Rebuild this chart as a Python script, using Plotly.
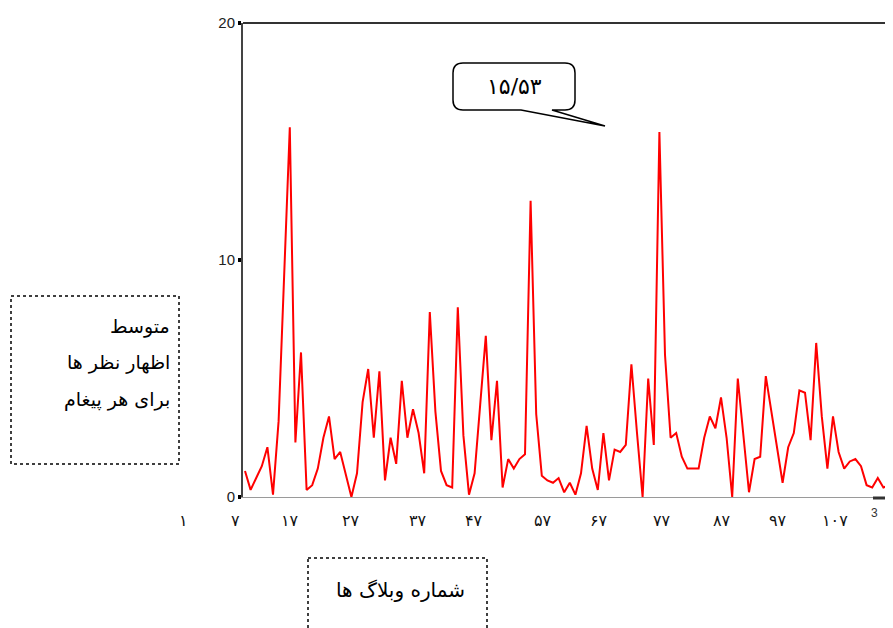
import plotly.graph_objects as go

# ---- data ----
blog_index = list(range(1, 118))
avg_comments = [
    1.1, 0.3, 0.8, 1.3, 2.1, 0.1, 3.2, 9.5, 15.6, 2.3,
    6.1, 0.3, 0.5, 1.2, 2.5, 3.4, 1.6, 1.9, 0.9, 0.0,
    1.0, 4.0, 5.4, 2.5, 5.3, 0.7, 2.5, 1.4, 4.9, 2.5,
    3.7, 2.7, 1.0, 7.8, 3.6, 1.1, 0.5, 0.4, 8.0, 2.6,
    0.1, 1.0, 3.9, 6.8, 2.4, 4.9, 0.4, 1.6, 1.2, 1.6,
    1.8, 12.5, 3.5, 0.9, 0.7, 0.6, 0.8, 0.2, 0.6, 0.1,
    1.0, 3.0, 1.2, 0.3, 2.7, 0.7, 2.0, 1.9, 2.2, 5.6,
    2.7, 0.0, 5.0, 2.2, 15.4, 6.0, 2.5, 2.7, 1.7, 1.2,
    1.2, 1.2, 2.5, 3.4, 2.9, 4.2, 2.5, 0.0, 5.0, 2.5,
    0.2, 1.6, 1.7, 5.1, 3.6, 2.0, 0.6, 2.1, 2.7, 4.5,
    4.4, 2.4, 6.5, 3.4, 1.2, 3.4, 1.9, 1.2, 1.5, 1.6,
    1.3, 0.5, 0.4, 0.8, 0.4, 0.5, 0.6,
]
y_tick_values = [0, 10, 20]
y_tick_labels = ["0", "10", "20"]
x_tick_labels = ["۱", "۷", "۱۷", "۲۷", "۳۷", "۴۷", "۵۷", "۶۷", "۷۷", "۸۷", "۹۷", "۱۰۷"]
peak_label = "۱۵/۵۳"
y_title_lines = ["متوسط", "اظهار نظر ها", "برای هر پیغام"]
x_title = "شماره وبلاگ ها"

# ---- layout helpers (screen pixel -> paper); page has an 8px body margin ----
W, H = 893, 628
OFF = 8
L, T, B = 243, 23, 497          # screen coords of plot left/top/bottom
R = W + OFF                      # plot extends to the figure's right edge
def px(x):
    return (x - L) / (R - L)
def py(y):
    return (B - y) / (B - T)

x_label_px = [183, 235, 290, 351, 418, 474, 543, 599, 662, 722, 778, 835]

fig = go.Figure()
fig.add_trace(go.Scatter(
    x=blog_index, y=avg_comments, mode="lines",
    line=dict(color="#ff0000", width=2),
    hoverinfo="skip", showlegend=False,
))

step = 5.6
x0 = 1 - (245 - L) / step
x1 = 1 + (R - 245) / step
fig.update_xaxes(
    range=[x0, x1], showgrid=False, zeroline=False, showticklabels=False,
    showline=True, linecolor="#9a9a9a", linewidth=1, ticks="",
)
fig.update_yaxes(
    range=[0, 20], showgrid=False, zeroline=False,
    tickvals=y_tick_values, ticktext=y_tick_labels,
    ticks="outside", ticklen=3, tickwidth=4, tickcolor="#000",
    showline=True, linecolor="#444", linewidth=2,
    tickfont=dict(family="Liberation Sans, Arial", size=15, color="#222"),
)

shapes = []
shapes.append(dict(type="line", xref="paper", yref="paper", x0=0, x1=1, y0=1, y1=1,
                   line=dict(color="#333", width=2)))
shapes.append(dict(type="line", xref="paper", yref="paper", x0=px(873), x1=px(895),
                   y0=py(498), y1=py(498), line=dict(color="#333", width=3)))
pts = [("M", 463, 63), ("L", 565, 63), ("Q", 575, 63, 575, 73), ("L", 575, 100),
       ("Q", 575, 110, 565, 110), ("L", 552, 110), ("L", 605, 126), ("L", 521, 110),
       ("L", 463, 110), ("Q", 453, 110, 453, 100), ("L", 453, 73), ("Q", 453, 63, 463, 63)]
path = ""
for p in pts:
    coords = p[1:]
    s = [f"{px(coords[i]):.5f},{py(coords[i+1]):.5f}" for i in range(0, len(coords), 2)]
    path += p[0] + " " + " ".join(s) + " "
path += "Z"
shapes.append(dict(type="path", xref="paper", yref="paper", path=path,
                   fillcolor="white", line=dict(color="#000", width=1.5)))
shapes.append(dict(type="rect", xref="paper", yref="paper",
                   x0=px(11), x1=px(179), y0=py(296), y1=py(464),
                   line=dict(color="#000", width=1.5, dash="dot")))
shapes.append(dict(type="rect", xref="paper", yref="paper",
                   x0=px(308), x1=px(487), y0=py(558), y1=py(645),
                   line=dict(color="#000", width=1.5, dash="dot")))

annotations = []
for lab, xp in zip(x_tick_labels, x_label_px):
    annotations.append(dict(text=lab, xref="paper", yref="paper", x=px(xp), y=py(520),
                            showarrow=False, xanchor="center", yanchor="middle",
                            font=dict(family="DejaVu Sans", size=16, color="#111")))
annotations.append(dict(text="3", xref="paper", yref="paper", x=px(874), y=py(513),
                        showarrow=False, xanchor="center", yanchor="middle",
                        font=dict(family="Liberation Sans", size=12, color="#333")))
annotations.append(dict(text=peak_label, xref="paper", yref="paper", x=px(514), y=py(86),
                        showarrow=False, xanchor="center", yanchor="middle",
                        font=dict(family="DejaVu Sans", size=22, color="#000")))
for line, yy in zip(y_title_lines, [326, 362, 399]):
    annotations.append(dict(text=line, xref="paper", yref="paper", x=px(172), y=py(yy),
                            showarrow=False, xanchor="right", yanchor="middle",
                            font=dict(family="DejaVu Sans", size=19, color="#000")))
annotations.append(dict(text=x_title, xref="paper", yref="paper", x=px(400), y=py(590),
                        showarrow=False, xanchor="center", yanchor="middle",
                        font=dict(family="DejaVu Sans", size=20, color="#000")))

fig.update_layout(
    width=W, height=H,
    margin=dict(l=L - OFF, r=0, t=T - OFF, b=H - (B - OFF)),
    paper_bgcolor="white", plot_bgcolor="white",
    shapes=shapes, annotations=annotations,
    showlegend=False,
)
fig.write_html("out.html", config={"displayModeBar": False})
